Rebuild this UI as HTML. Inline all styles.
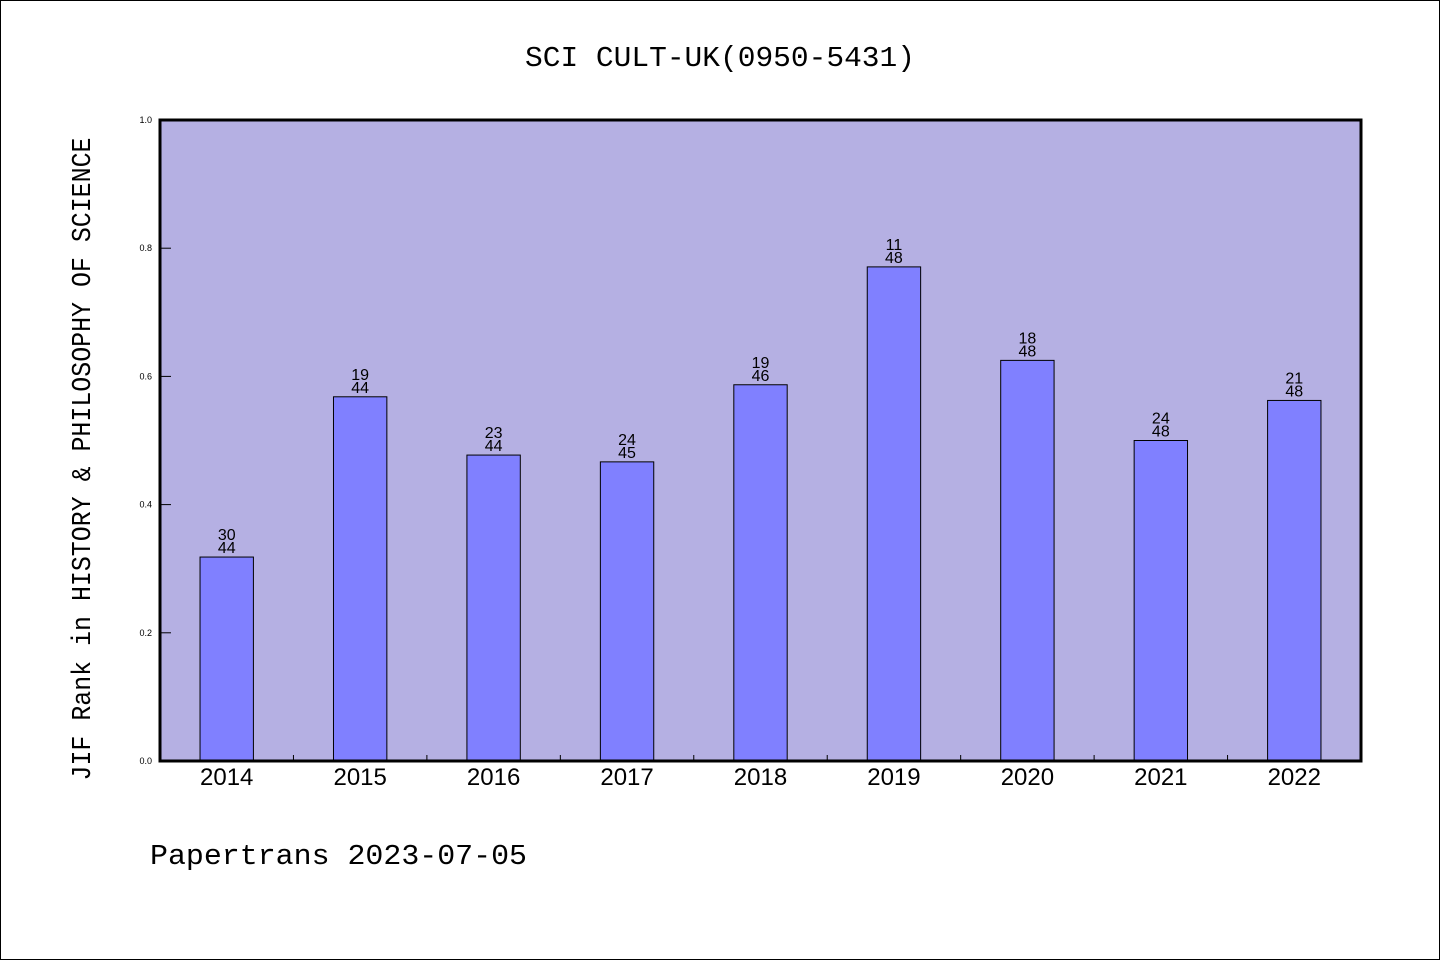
<!DOCTYPE html>
<html><head><meta charset="utf-8"><style>
body{margin:0;background:#fff}
svg{display:block}
</style></head><body>
<svg id="chart" width="1440" height="960" xmlns="http://www.w3.org/2000/svg">
<rect x="0.5" y="0.5" width="1439" height="959" fill="#fff" stroke="#000"/>
<text x="720" y="66" text-anchor="middle" font-family="Liberation Mono, monospace" font-size="29" textLength="390" lengthAdjust="spacingAndGlyphs">SCI CULT-UK(0950-5431)</text>
<rect x="160" y="120" width="1201" height="641" fill="#b5b0e3"/>
<g id="bars"></g>
<g id="axes"></g>
<rect x="160" y="120" width="1201" height="641" fill="none" stroke="#000" stroke-width="3"/>
<text transform="translate(90,459) rotate(-90)" text-anchor="middle" font-family="Liberation Mono, monospace" font-size="27" textLength="643" lengthAdjust="spacingAndGlyphs">JIF Rank in HISTORY &amp; PHILOSOPHY OF SCIENCE</text>
<text x="150" y="864" font-family="Liberation Mono, monospace" font-size="29" textLength="377" lengthAdjust="spacingAndGlyphs">Papertrans 2023-07-05</text>
</svg>
<script>
const years=["2014","2015","2016","2017","2018","2019","2020","2021","2022"];
const ranks=[30,19,23,24,19,11,18,24,21];
const totals=[44,44,44,45,46,48,48,48,48];
const yTicks=["0.0","0.2","0.4","0.6","0.8","1.0"];
const NS="http://www.w3.org/2000/svg";
const X0=160,X1=1361,Y0=761,Y1=120;
const slot=(X1-X0)/years.length;
const xc=i=>X0+slot*(i+0.5);
const ys=v=>Y0-(Y0-Y1)*v;
function mk(t,a,p){const e=document.createElementNS(NS,t);for(const k in a)e.setAttribute(k,a[k]);p.appendChild(e);return e;}
const bars=document.getElementById('bars'),axes=document.getElementById('axes');
years.forEach((y,i)=>{
  const v=(totals[i]-ranks[i])/totals[i];
  const w=slot*0.4;
  const r=mk('rect',{x:xc(i)-w/2,y:ys(v),width:w,height:Y0-ys(v),fill:'#8080ff',stroke:'#000','stroke-width':1},bars);
  
  
  const t1=mk('text',{x:xc(i),y:ys(v)-17,'text-anchor':'middle','font-family':'Liberation Sans, sans-serif','font-size':16},bars);
  t1.textContent=ranks[i];
  
  
  const t2=mk('text',{x:xc(i),y:ys(v)-4,'text-anchor':'middle','font-family':'Liberation Sans, sans-serif','font-size':16},bars);
  t2.textContent=totals[i];
  
  
  const xl=mk('text',{x:xc(i),y:785,'text-anchor':'middle','font-family':'Liberation Sans, sans-serif','font-size':24},axes);
  xl.textContent=y;
  
  
  if(i>0){
    const tk=mk('line',{x1:X0+slot*i,x2:X0+slot*i,y1:Y0,y2:Y0-6,stroke:'#000','stroke-width':1},axes);
    
    
  }
});
yTicks.forEach(l=>{
  const v=parseFloat(l);
  const t=mk('text',{x:152,y:ys(v)+3,'text-anchor':'end','font-family':'Liberation Sans, sans-serif','font-size':9},axes);
  t.textContent=l;
  
  
  const tk=mk('line',{x1:X0,x2:X0+11,y1:ys(v),y2:ys(v),stroke:'#000','stroke-width':1},axes);
  
  
});
</script>
</body></html>
